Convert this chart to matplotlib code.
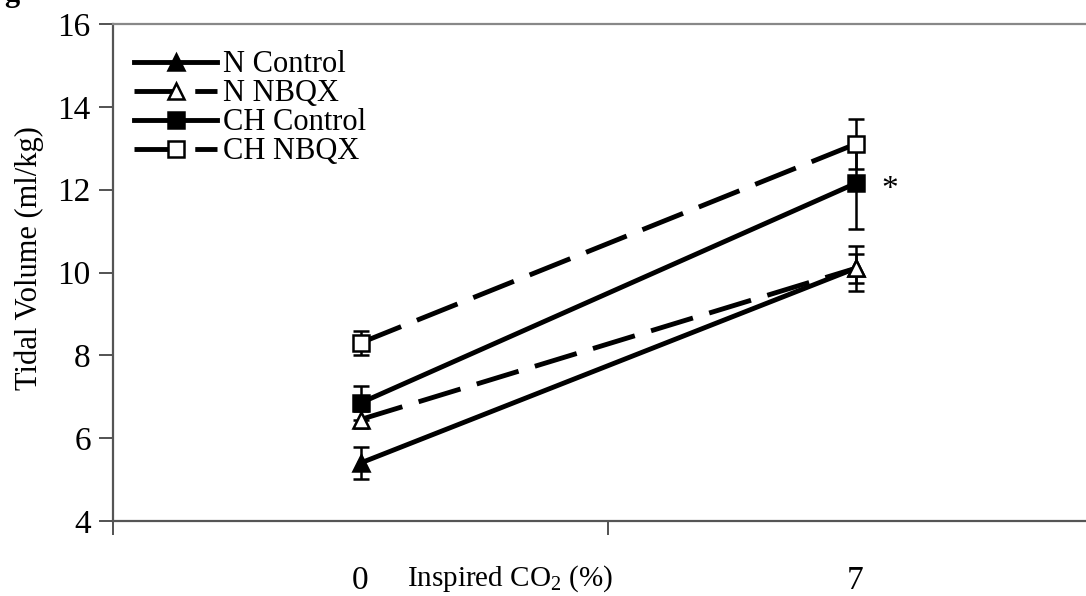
import matplotlib.pyplot as plt

plt.rcParams['font.family'] = ['Liberation Serif', 'DejaVu Serif']
plt.rcParams['mathtext.fontset'] = 'custom'
plt.rcParams['mathtext.rm'] = 'Liberation Serif'

# data
categories = ['0', '7']
n_control = [5.4, 10.1]
n_control_err = [0.38, 0.35]
n_nbqx = [6.45, 10.1]
n_nbqx_err = [0.2, 0.55]
ch_control = [6.85, 12.15]
ch_control_err = [0.4, 1.1]
ch_nbqx = [8.3, 13.1]
ch_nbqx_err = [0.28, 0.6]

series = [
    ('N Control', n_control, n_control_err, '^', 'black', 'solid'),
    ('N NBQX', n_nbqx, n_nbqx_err, '^', 'white', 'dashed'),
    ('CH Control', ch_control, ch_control_err, 's', 'black', 'solid'),
    ('CH NBQX', ch_nbqx, ch_nbqx_err, 's', 'white', 'dashed'),
]

fig = plt.figure(figsize=(10.86, 5.96), dpi=100)
ax = fig.add_axes([113 / 1086, 1 - 521 / 596, 990 / 1086, 497 / 596])

x = list(range(len(categories)))
handles = []
names = []
for name, vals, err, mk, face, style in series:
    eb = ax.errorbar(x, vals, yerr=err, color='black', lw=3.5, marker=mk,
                     ms=11, mfc=face, mec='black', mew=1.8,
                     elinewidth=1.8, capsize=6, capthick=1.8)
    line = eb.lines[0]
    if style == 'dashed':
        line.set_dashes([9, 3.5])
    handles.append(line)
    names.append(name)

ax.set_xlim(-0.5, 1.5)
ax.set_ylim(4, 16)
ax.set_yticks([4, 6, 8, 10, 12, 14, 16])
ax.set_xticks([-0.5, 0.5, 1.5])
ax.set_xticklabels([])
ax.set_xticks(x, minor=True)
ax.set_xticklabels(categories, minor=True)
ax.tick_params(axis='x', which='minor', length=0, pad=32, labelsize=24)
ax.tick_params(axis='x', which='major', direction='out', length=10, width=1.3, color='#444444')
ax.tick_params(axis='y', direction='out', length=10, width=1.3, color='#444444', labelsize=24, pad=6)

for side in ['left', 'bottom', 'top', 'right']:
    ax.spines[side].set_color('#555555')
    ax.spines[side].set_linewidth(1.6)
ax.spines['top'].set_color('#888888')

ax.set_ylabel('Tidal Volume (ml/kg)', fontsize=22)
ax.yaxis.set_label_coords(-0.07, 0.53)
ax.set_xlabel('Inspired CO$_2$ (%)', fontsize=21)
ax.xaxis.set_label_coords((510 - 113) / 990, -0.085)

ax.text(1.052, 12.0, '*', fontsize=24, ha='left', va='center')

ax.legend(handles, names, loc='upper left', bbox_to_anchor=(0.0, 0.99),
          frameon=False, fontsize=22, handlelength=2.7, handletextpad=0.2,
          labelspacing=0.0, borderaxespad=0.3)

fig.text(0.004, 1 - 1 / 596, 'g', fontsize=22, fontweight='bold', va='baseline')

fig.savefig('out.png', dpi=100)
